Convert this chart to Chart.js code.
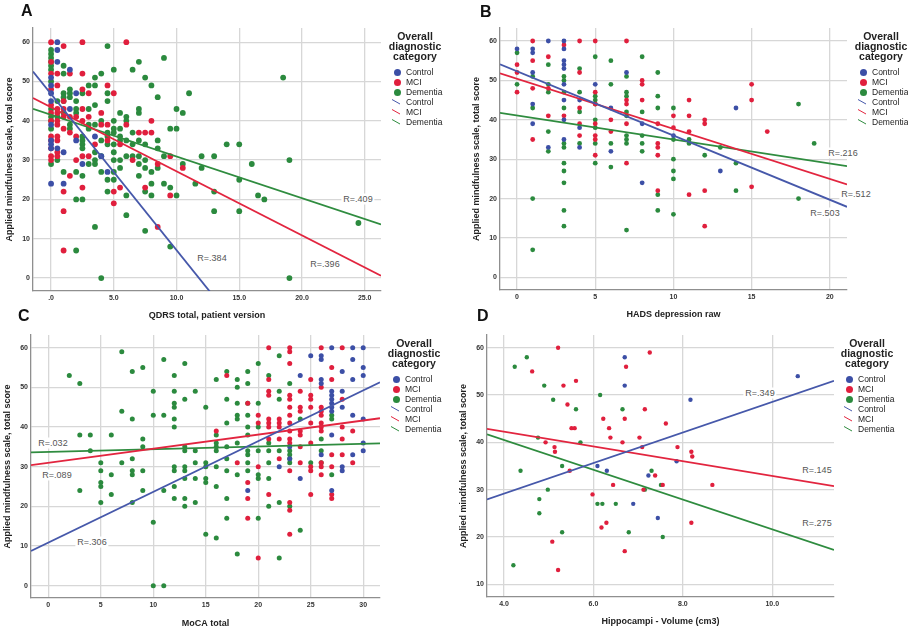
<!DOCTYPE html>
<html>
<head>
<meta charset="utf-8">
<script src="https://cdn.jsdelivr.net/npm/chart.js@4.4.1/dist/chart.umd.min.js"></script>
<style>
  body { margin: 0; background: #fff; }
  #page { position: relative; width: 908px; height: 630px; overflow: hidden; font-family: "Liberation Sans", Arial, sans-serif; }
  #page canvas { position: absolute; }
  .letter { position: absolute; font-weight: bold; font-size: 16px; line-height: 16px; color: #111; }
  .legend { position: absolute; width: 70px; color: #222; }
  .legend-title { font-weight: bold; font-size: 10.5px; line-height: 10px; text-align: center; margin-bottom: 6px; }
  .legend-row { position: relative; height: 10px; font-size: 8.5px; line-height: 10px; padding-left: 26px; white-space: nowrap; }
  .legend-dot { position: absolute; left: 14px; top: 1.5px; width: 7px; height: 7px; border-radius: 50%; }
  .legend-line { position: absolute; left: 18px; top: 2px; }
  .r-label { position: absolute; transform: translate(-50%, -50%); background: #fff; color: #555; font-size: 9px; line-height: 11px; padding: 0 2px; white-space: nowrap; }
</style>
</head>
<body>
<div id="page"></div>
<script>
const groups = ["Control", "MCI", "Dementia"];
const dotColors = ["#3c4fa6", "#e01f3d", "#2b8a3e"];
const lineColors = ["#4658aa", "#e2253f", "#2f8c3f"];

// A: QDRS total
const aControl = [[0,51],[0,49],[0,47],[0,45],[0,39],[0,35],[0,34],[0,33],[0,24],[0.5,60],[0.5,58],[0.5,55],[0.5,33],
  [1,32],[1,24],[1.5,53],[1.5,43],[2,47],[2,35],[2.5,29],[3.5,36],[4,31],[4.5,27]];
const aMci = [[0,60],[0,55],[0,52],[0,48],[0,44],[0,42],[0,40],[0,36],[0,35],[0,33],[0,31],[0,30],
  [0.5,52],[0.5,49],[0.5,43],[0.5,42],[0.5,40],[0.5,39],[0.5,36],[0.5,35],[0.5,32],[0.5,31],
  [1,59],[1,45],[1,43],[1,41],[1,38],[1,22],[1,17],[1,7],[1.5,52],[1.5,41],[1.5,37],[1.5,26],
  [2,41],[2,36],[2,30],[2.5,60],[2.5,52],[2.5,48],[2.5,43],[2.5,40],[2.5,31],[2.5,23],
  [3,47],[3,41],[3,31],[3.5,34],[4,42],[4,39],[4.5,49],[4.5,39],[4.5,35],[5,47],[5,22],[5,19],
  [5.5,34],[5.5,23],[6,60],[6,39],[6.5,30],[7,37],[7.5,37],[7.5,23],[8,40],[8,37],[8.5,29],[8.5,13],
  [9.5,31],[9.5,21],[10.5,28]];
const aDementia = [[0,58],[0,57],[0,56],[0,55],[0,54],[0,53],[0,50],[0,43],[0,41],[0,40],[0,38],[0,29],
  [0.5,45],[0.5,41],[0.5,30],[1,54],[1,52],[1,47],[1,46],[1,45],[1,42],[1,27],
  [1.5,48],[1.5,47],[1.5,46],[1.5,39],[1.5,38],[2,45],[2,43],[2,42],[2,27],[2,20],[2,7],
  [2.5,47],[2.5,36],[2.5,35],[2.5,34],[2.5,33],[2.5,26],[2.5,20],[3,49],[3,43],[3,39],[3,38],[3,29],
  [3.5,51],[3.5,49],[3.5,44],[3.5,39],[3.5,32],[3.5,30],[3.5,29],[3.5,13],[4,52],[4,40],[4,35],[4,31],[4,27],[4,0],
  [4.5,59],[4.5,47],[4.5,45],[4.5,37],[4.5,36],[4.5,34],[4.5,25],[4.5,22],
  [5,53],[5,40],[5,38],[5,37],[5,34],[5,32],[5,30],[5,27],[5,25],[5.5,42],[5.5,38],[5.5,36],[5.5,35],[5.5,30],[5.5,28],
  [6,41],[6,40],[6,35],[6,31],[6,21],[6,16],[6.5,53],[6.5,37],[6.5,34],[6.5,31],
  [7,55],[7,43],[7,42],[7,35],[7,31],[7,29],[7,26],[7.5,51],[7.5,34],[7.5,30],[7.5,28],[7.5,22],[7.5,12],
  [8,49],[8,27],[8,24],[8,21],[8.5,46],[8.5,35],[8.5,33],[8.5,28],[9,56],[9,31],[9,24],[9.5,38],[9.5,23],[9.5,8],
  [10,43],[10,38],[10,21],[10.5,42],[10.5,29],[11,47],[11.5,24],[12,31],[12,28],[13,31],[13,22],[13,17],
  [14,34],[15,34],[15,25],[15,17],[16,29],[16.5,21],[17,20],[18.5,51],[19,30],[19,0],[24.5,14]];
const aIntercepts = [46.8, 43.45, 41.5];
const aSlopes = [-3.97, -1.63, -1.06];
const aRLabels = ["R=.384", "R=.396", "R=.409"];
const aXTicks = [0, 5, 10, 15, 20, 25];
const aXTickLabels = [".0", "5.0", "10.0", "15.0", "20.0", "25.0"];
const aYTicks = [0, 10, 20, 30, 40, 50, 60];

// B: HADS depression
const bControl = [[0,58],[1,58],[1,57],[1,52],[1,44],[1,39],[2,60],[2,33],[3,60],[3,58],[3,55],[3,54],[3,53],
  [3,49],[3,45],[3,40],[3,35],[4,45],[4,38],[4,33],[5,49],[6,43],[6,32],[7,52],[8,39],[8,24],[10,36],[13,27],[14,43]];
const bMci = [[0,54],[0,52],[0,47],[1,60],[1,55],[1,48],[1,35],[2,56],[2,48],[2,41],[3,59],[3,41],
  [4,60],[4,52],[4,43],[4,39],[4,36],[5,60],[5,47],[5,44],[5,39],[5,36],[5,35],[5,31],[6,40],[6,37],
  [7,60],[7,45],[7,44],[7,39],[7,29],[8,50],[8,49],[8,45],[9,39],[9,34],[9,33],[9,31],[9,22],
  [10,41],[10,38],[11,45],[11,41],[11,37],[11,21],[12,40],[12,39],[12,22],[12,13],[15,49],[15,45],[15,23],[16,37]];
const bDementia = [[0,57],[0,49],[1,51],[1,43],[1,20],[1,7],[2,54],[2,49],[2,47],[2,37],[2,32],
  [3,51],[3,50],[3,47],[3,43],[3,34],[3,33],[3,29],[3,27],[3,24],[3,17],[3,13],[4,53],[4,47],[4,42],[4,34],
  [5,56],[5,46],[5,45],[5,44],[5,40],[5,38],[5,34],[5,29],[6,55],[6,49],[6,34],[6,28],
  [7,51],[7,47],[7,46],[7,42],[7,41],[7,36],[7,35],[7,34],[7,12],[8,56],[8,42],[8,36],[8,34],[8,32],
  [9,52],[9,46],[9,43],[9,21],[9,17],[10,43],[10,35],[10,30],[10,27],[10,25],[10,16],[11,35],[11,34],
  [12,31],[13,33],[14,29],[14,22],[18,44],[18,20],[19,34]];
const bIntercepts = [52.3, 50.4, 41.1];
const bSlopes = [-1.63, -1.27, -0.61];
const bRLabels = ["R=.503", "R=.512", "R=.216"];
const bXTicks = [0, 5, 10, 15, 20];
const bXTickLabels = ["0", "5", "10", "15", "20"];
const bYTicks = [0, 10, 20, 30, 40, 50, 60];

// C: MoCA total
const cControl = [[19,24],[22,30],[23,32],[23,35],[24,53],[24,27],[25,58],[26,58],[26,57],[26,52],[26,51],[26,33],
  [27,60],[27,49],[27,48],[27,47],[27,46],[27,45],[27,44],[27,38],[27,24],[28,54],[28,49],[28,45],[28,30],[28,29],
  [29,60],[29,57],[29,52],[29,43],[29,33],[30,60],[30,55],[30,53],[30,42],[30,36],[30,34]];
const cMci = [[16,39],[17,53],[18,31],[19,46],[19,26],[19,22],[19,17],[20,43],[20,41],[20,30],[20,7],
  [21,60],[21,52],[21,49],[21,48],[21,42],[21,41],[21,40],[21,37],[21,23],[22,42],[22,41],[22,40],[22,37],[22,32],
  [23,60],[23,59],[23,56],[23,48],[23,47],[23,45],[23,43],[23,41],[23,39],[23,37],[23,36],[23,29],[23,21],[23,19],[23,13],
  [24,49],[24,45],[24,44],[24,39],[24,38],[24,35],[24,31],[25,52],[25,48],[25,47],[25,45],[25,41],[25,36],[25,30],[25,29],[25,23],
  [26,60],[26,50],[26,45],[26,44],[26,43],[26,41],[26,40],[26,39],[26,31],[26,30],[26,28],
  [27,55],[27,52],[27,33],[27,30],[27,23],[27,22],[28,60],[28,47],[28,40],[28,37],[28,33],[29,39],[29,31]];
const cDementia = [[2,53],[3,51],[3,38],[3,24],[4,38],[4,34],[5,31],[5,29],[5,26],[5,25],[5,21],[6,38],[6,28],[6,23],
  [7,59],[7,44],[7,31],[8,54],[8,42],[8,32],[8,29],[8,28],[8,21],[9,55],[9,37],[9,35],[9,29],[9,24],
  [10,49],[10,43],[10,16],[10,0],[11,57],[11,43],[11,24],[11,0],
  [12,53],[12,49],[12,46],[12,45],[12,42],[12,40],[12,30],[12,29],[12,25],[12,22],
  [13,56],[13,47],[13,35],[13,34],[13,30],[13,29],[13,27],[13,22],[13,20],[14,49],[14,34],[14,31],[14,27],[14,21],
  [15,45],[15,31],[15,30],[15,27],[15,26],[15,13],[16,52],[16,38],[16,36],[16,35],[16,34],[16,30],[16,25],[16,12],
  [17,54],[17,47],[17,41],[17,35],[17,32],[17,29],[17,22],[17,17],[18,52],[18,50],[18,46],[18,43],[18,42],[18,36],[18,28],[18,8],
  [19,54],[19,51],[19,46],[19,43],[19,40],[19,38],[19,34],[19,33],[19,31],[19,29],
  [20,56],[20,46],[20,40],[20,34],[20,28],[20,27],[20,17],[21,53],[21,36],[21,34],[21,31],[21,27],[21,20],
  [22,58],[22,49],[22,47],[22,34],[22,21],[22,7],[23,51],[23,34],[23,33],[23,32],[23,31],[23,20],[24,42],[24,14],
  [25,31],[26,37],[26,34],[26,31],[27,43],[27,42],[27,28]];
const cIntercepts = [10.85, 31.0, 33.7];
const cSlopes = [1.28, 0.355, 0.069];
const cRLabels = ["R=.306", "R=.089", "R=.032"];
const cXTicks = [0, 5, 10, 15, 20, 25, 30];
const cXTickLabels = ["0", "5", "10", "15", "20", "25", "30"];
const cYTicks = [0, 10, 20, 30, 40, 50, 60];

// D: hippocampal volume
const dControl = [[6.7,58],[6.7,52],[8.17,49],[7.86,36],[6.09,35],[6.3,34],[7.23,33],[6.89,27],[7.44,24],[10.57,54]];
const dMci = [[5.21,60],[4.63,55],[5.33,52],[5.61,53],[5.42,48],[5.51,43],[5.58,43],[4.93,40],[5.13,39],[5.14,38],[5.47,34],
  [6.22,45],[6.7,45],[6.35,43],[6.38,41],[6.65,40],[6.73,56],[7.26,59],[7.15,47],[7.03,41],[7.09,39],[7.62,44],
  [7.88,39],[8.19,38],[8.21,37],[7.38,33],[7.55,31],[7.12,30],[6.44,31],[5.98,29],[6.29,23],[6.18,22],[8.19,23],
  [8.66,31],[5.08,19],[5.21,13],[6.7,17]];
const dDementia = [[4.24,56],[4.51,58],[4.9,52],[5.1,49],[5.61,47],[4.76,41],[5.71,40],[4.37,34],[5.3,35],[4.98,30],
  [4.79,28],[4.79,25],[5.3,21],[4.21,14],[6.15,50],[6.65,47],[6.09,27],[6.2,27],[6.5,27],[6.79,21],[7.3,34],
  [7.15,30],[7.51,31],[7.55,20]];
const dIntercepts = [16.25, 48.5, 53.1];
const dSlopes = [3.23, -1.56, -3.15];
const dRLabels = ["R=.349", "R=.145", "R=.275"];
const dXTicks = [4, 6, 8, 10];
const dXTickLabels = ["4.0", "6.0", "8.0", "10.0"];
const dYTicks = [10, 20, 30, 40, 50, 60];

const yTitle = "Applied mindfulness scale, total score";
const legendTitle = ["Overall", "diagnostic", "category"];

const panels = [
  { letter: "A", letterPos: [21, 3], points: [aControl, aMci, aDementia], intercepts: aIntercepts, slopes: aSlopes,
    rLabels: aRLabels, rPos: [[212, 258], [325, 264], [358, 199]],
    xRange: [-1.44, 26.3], yRange: [-3.3, 63.6], xTicks: aXTicks, xTickLabels: aXTickLabels, yTicks: aYTicks,
    xTitle: "QDRS total, patient version", area: { left: 33, top: 28, right: 381, bottom: 291 }, xTitleY: 315,
    legend: [415, 31], dot: 2.9 },
  { letter: "B", letterPos: [480, 4], points: [bControl, bMci, bDementia], intercepts: bIntercepts, slopes: bSlopes,
    rLabels: bRLabels, rPos: [[825, 213], [856, 194], [843, 153]],
    xRange: [-1.09, 21.1], yRange: [-3.2, 63.3], xTicks: bXTicks, xTickLabels: bXTickLabels, yTicks: bYTicks,
    xTitle: "HADS depression raw", area: { left: 500, top: 28, right: 847, bottom: 290 }, xTitleY: 314,
    legend: [881, 31], dot: 2.4 },
  { letter: "C", letterPos: [18, 308], points: [cControl, cMci, cDementia], intercepts: cIntercepts, slopes: cSlopes,
    rLabels: cRLabels, rPos: [[92, 542], [57, 475], [53, 443]],
    xRange: [-1.65, 31.6], yRange: [-3.1, 63.2], xTicks: cXTicks, xTickLabels: cXTickLabels, yTicks: cYTicks,
    xTitle: "MoCA total", area: { left: 31, top: 335, right: 380, bottom: 598 }, xTitleY: 623,
    legend: [414, 338], dot: 2.5 },
  { letter: "D", letterPos: [477, 308], points: [dControl, dMci, dDementia], intercepts: dIntercepts, slopes: dSlopes,
    rLabels: dRLabels, rPos: [[760, 393], [817, 470], [817, 523]],
    xRange: [3.62, 11.38], yRange: [7.3, 62.7], xTicks: dXTicks, xTickLabels: dXTickLabels, yTicks: dYTicks,
    xTitle: "Hippocampi - Volume (cm3)", area: { left: 487, top: 335, right: 834, bottom: 597 }, xTitleY: 621,
    legend: [867, 338], dot: 2.2 },
];

const page = document.getElementById("page");
Chart.defaults.font.family = "'Liberation Sans', Arial, sans-serif";

function fitSegment(intercept, slope, range) {
  return range.map((x) => ({ x, y: intercept + slope * x }));
}

function addLegend(p) {
  const box = document.createElement("div");
  box.className = "legend";
  box.style.left = (p.legend[0] - 35) + "px";
  box.style.top = p.legend[1] + "px";
  box.innerHTML = `<div class="legend-title">${legendTitle.join("<br>")}</div>` +
    groups.map((g, i) => `<div class="legend-row"><span class="legend-dot" style="background:${dotColors[i]}"></span>${g}</div>`).join("") +
    groups.map((g, i) => `<div class="legend-row"><svg class="legend-line" width="8" height="6" style="left:12px"><line x1="0" y1="0.5" x2="8" y2="5" stroke="${lineColors[i]}" stroke-width="1"/></svg>${g}</div>`).join("");
  page.appendChild(box);
}

function buildPanel(p) {
  const canvasLeft = p.area.left - 33;
  const canvasTop = p.area.top - 28;
  const width = p.area.right + 4 - canvasLeft;
  const height = p.xTitleY + 10 - canvasTop;
  const canvas = document.createElement("canvas");
  canvas.width = width;
  canvas.height = height;
  canvas.style.left = canvasLeft + "px";
  canvas.style.top = canvasTop + "px";
  page.appendChild(canvas);

  const datasets = [];
  groups.forEach((g, i) => {
    datasets.push({
      label: g + " fit",
      data: fitSegment(p.intercepts[i], p.slopes[i], p.xRange),
      showLine: true,
      borderColor: lineColors[i],
      borderWidth: 1.8,
      pointRadius: 0,
      order: 0,
    });
  });
  groups.forEach((g, i) => {
    datasets.push({
      label: g,
      data: p.points[i].map(([x, y]) => ({ x, y })),
      backgroundColor: dotColors[i],
      borderWidth: 0,
      pointRadius: p.dot,
      order: 1,
    });
  });

  const tickFont = { size: 7, weight: "bold" };
  const titleFont = { size: 9, weight: "bold" };
  const gridStyle = { color: "#d7d7d7", lineWidth: 1.3, drawTicks: false };
  const borderStyle = { color: "#8f8f8f", width: 1.3 };

  new Chart(canvas, {
    type: "scatter",
    data: { datasets },
    options: {
      responsive: false,
      animation: false,
      devicePixelRatio: 1,
      layout: { padding: { left: 0, top: 28, right: 4, bottom: 0 } },
      plugins: { legend: { display: false }, tooltip: { enabled: false } },
      scales: {
        x: {
          type: "linear",
          min: p.xRange[0],
          max: p.xRange[1],
          afterBuildTicks: (s) => { s.ticks = p.xTicks.map((v) => ({ value: v })); },
          afterFit: (s) => { s.height = canvasTop + height - p.area.bottom; },
          grid: gridStyle,
          border: borderStyle,
          ticks: { font: tickFont, color: "#333", padding: 3, maxRotation: 0, autoSkip: false,
            callback: (v, i) => p.xTickLabels[i] },
          title: { display: true, text: p.xTitle, font: titleFont, color: "#222", padding: { top: 0, bottom: 4.5 } },
        },
        y: {
          type: "linear",
          min: p.yRange[0],
          max: p.yRange[1],
          afterBuildTicks: (s) => { s.ticks = p.yTicks.map((v) => ({ value: v })); },
          afterFit: (s) => { s.width = 33; },
          grid: gridStyle,
          border: borderStyle,
          ticks: { font: tickFont, color: "#333", padding: 3, autoSkip: false, callback: (v) => String(v) },
          title: { display: true, text: yTitle, font: titleFont, color: "#222", padding: { top: 4.5, bottom: 0 } },
        },
      },
    },
  });

  const letter = document.createElement("div");
  letter.className = "letter";
  letter.textContent = p.letter;
  letter.style.left = p.letterPos[0] + "px";
  letter.style.top = p.letterPos[1] + "px";
  page.appendChild(letter);

  p.rLabels.forEach((text, i) => {
    const label = document.createElement("div");
    label.className = "r-label";
    label.textContent = text;
    label.style.left = p.rPos[i][0] + "px";
    label.style.top = p.rPos[i][1] + "px";
    page.appendChild(label);
  });

  addLegend(p);
}

panels.forEach(buildPanel);
</script>
</body>
</html>
